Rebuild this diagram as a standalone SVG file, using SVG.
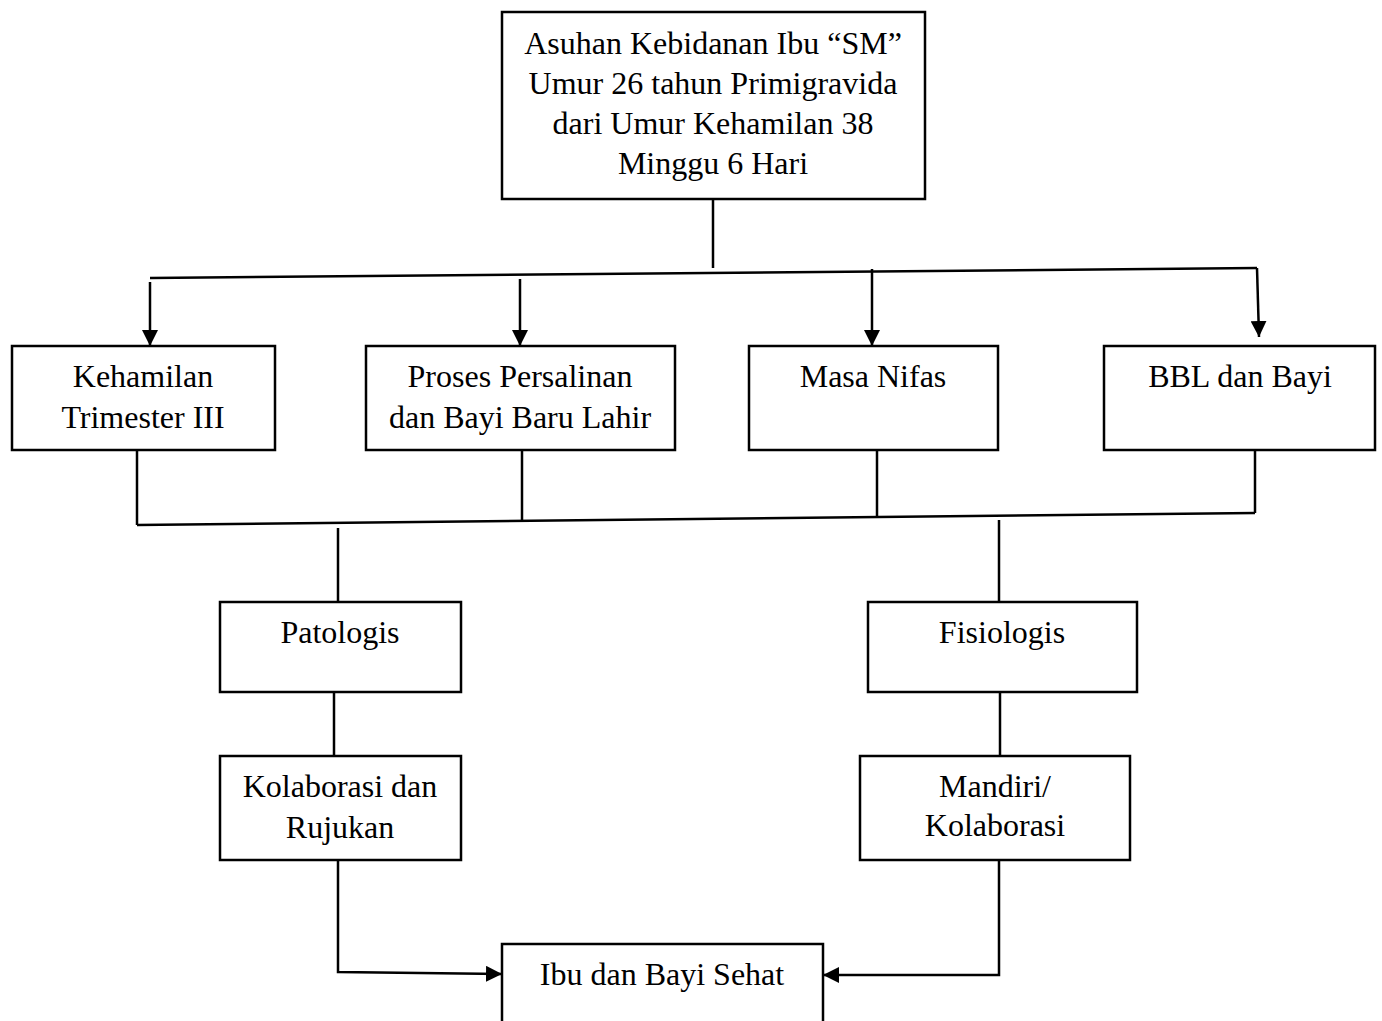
<svg xmlns="http://www.w3.org/2000/svg" width="1382" height="1021" viewBox="0 0 1382 1021">
<style>
.box{fill:#fff;stroke:#000;stroke-width:2.5}
.ln{fill:none;stroke:#000;stroke-width:2.5}
text{font-family:"Liberation Serif","Times New Roman",serif;font-size:32px;fill:#000;text-anchor:middle}
</style>
<defs>
<marker id="ah" viewBox="0 0 10 10" refX="10" refY="5" markerWidth="16" markerHeight="16" orient="auto" markerUnits="userSpaceOnUse">
<path d="M0,0 L10,5 L0,10 z" fill="#000"/>
</marker>
</defs>
<rect width="1382" height="1021" fill="#fff"/>
<g id="connectors">
<line class="ln" x1="713" y1="199" x2="713" y2="268"/>
<line class="ln" x1="150" y1="278" x2="1257" y2="268"/>
<line class="ln" x1="150" y1="282" x2="150" y2="346" marker-end="url(#ah)"/>
<line class="ln" x1="520" y1="279" x2="520" y2="346" marker-end="url(#ah)"/>
<line class="ln" x1="872" y1="269" x2="872" y2="346" marker-end="url(#ah)"/>
<line class="ln" x1="1257" y1="268" x2="1259" y2="337" marker-end="url(#ah)"/>
<line class="ln" x1="137" y1="450" x2="137" y2="525"/>
<line class="ln" x1="522" y1="450" x2="522" y2="522"/>
<line class="ln" x1="877" y1="450" x2="877" y2="518"/>
<line class="ln" x1="1255" y1="450" x2="1255" y2="513"/>
<line class="ln" x1="137" y1="525" x2="1255" y2="513"/>
<line class="ln" x1="338" y1="528" x2="338" y2="602"/>
<line class="ln" x1="999" y1="520" x2="999" y2="602"/>
<line class="ln" x1="334" y1="692" x2="334" y2="756"/>
<line class="ln" x1="1000" y1="692" x2="1000" y2="756"/>
<polyline class="ln" points="338,860 338,972 502,974" marker-end="url(#ah)"/>
<polyline class="ln" points="999,860 999,975 823,975" marker-end="url(#ah)"/>
</g>
<g id="n-top"><rect class="box" x="502" y="12" width="423" height="187"/>
<text x="713" y="54">Asuhan Kebidanan Ibu “SM”</text>
<text x="713" y="94">Umur 26 tahun Primigravida</text>
<text x="713" y="134">dari Umur Kehamilan 38</text>
<text x="713" y="174">Minggu 6 Hari</text></g>
<g id="n-keh"><rect class="box" x="12" y="346" width="263" height="104"/>
<text x="143" y="387">Kehamilan</text><text x="143" y="428">Trimester III</text></g>
<g id="n-pro"><rect class="box" x="366" y="346" width="309" height="104"/>
<text x="520" y="387">Proses Persalinan</text><text x="520" y="428">dan Bayi Baru Lahir</text></g>
<g id="n-nif"><rect class="box" x="749" y="346" width="249" height="104"/>
<text x="873" y="387">Masa Nifas</text></g>
<g id="n-bbl"><rect class="box" x="1104" y="346" width="271" height="104"/>
<text x="1240" y="387">BBL dan Bayi</text></g>
<g id="n-pat"><rect class="box" x="220" y="602" width="241" height="90"/>
<text x="340" y="643">Patologis</text></g>
<g id="n-fis"><rect class="box" x="868" y="602" width="269" height="90"/>
<text x="1002" y="643">Fisiologis</text></g>
<g id="n-kol"><rect class="box" x="220" y="756" width="241" height="104"/>
<text x="340" y="797">Kolaborasi dan</text><text x="340" y="838">Rujukan</text></g>
<g id="n-man"><rect class="box" x="860" y="756" width="270" height="104"/>
<text x="995" y="797">Mandiri/</text><text x="995" y="836">Kolaborasi</text></g>
<g id="n-ibu"><rect class="box" x="502" y="944" width="321" height="90"/>
<text x="662" y="985">Ibu dan Bayi Sehat</text></g>
</svg>
